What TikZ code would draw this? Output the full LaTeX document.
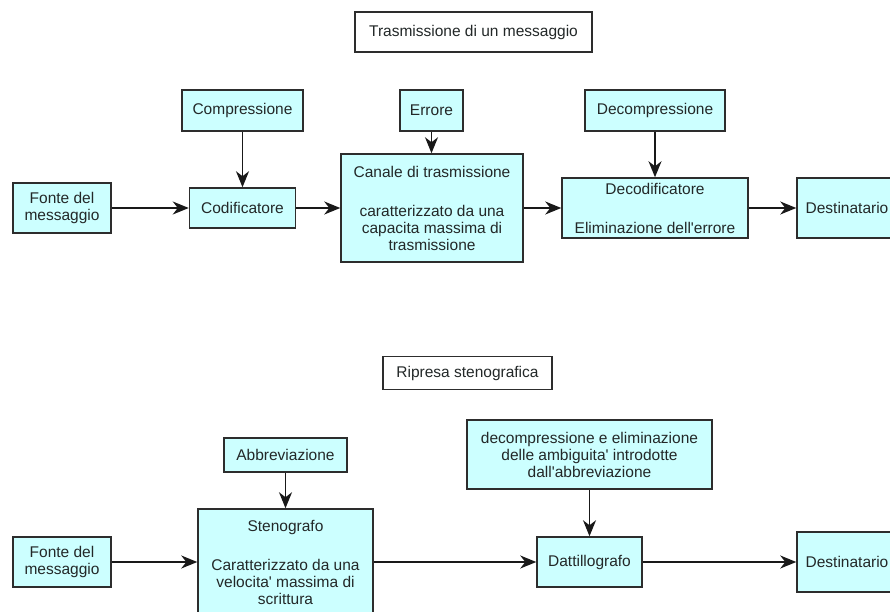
\documentclass[tikz,border=0pt]{standalone}
\usepackage{fontspec}
\setmainfont{Liberation Sans}[Ligatures=TeXOff]
\usetikzlibrary{arrows.meta}
\definecolor{boxfill}{RGB}{204,255,255}
\definecolor{boxline}{RGB}{45,45,45}
\definecolor{txt}{RGB}{35,40,40}
\tikzset{
  base/.style={draw=boxline, line width=1.5pt, inner sep=0pt, align=center,
    text=txt, font=\fontsize{15.5}{17}\selectfont},
  blk/.style={base, fill=boxfill},
  ttl/.style={base, fill=white},
  arr/.style={draw=black!90, line width=1.3pt,
    -{Stealth[length=16pt,width=13pt,inset=5pt]}},
}
\begin{document}
\begin{tikzpicture}[x=1pt,y=-1pt]
\useasboundingbox (0,0) rectangle (890,612);
\fill[white] (0,0) rectangle (890,612);
\clip (0,0) rectangle (890,612);

% ---- Trasmissione di un messaggio ----
\node[ttl, minimum width=237pt, minimum height=40pt] (t1) at (473.5,32) {Trasmissione di un messaggio};
\node[blk, minimum width=98pt, minimum height=50pt] (f1) at (62,208) {Fonte del\\messaggio};
\node[blk, minimum width=121pt, minimum height=41pt] (comp) at (242.5,110.5) {Compressione};
\node[blk, minimum width=106pt, minimum height=40pt] (cod) at (242.5,208) {Codificatore};
\node[blk, minimum width=63pt, minimum height=41pt] (err) at (431.5,110.5) {Errore};
\node[blk, minimum width=182pt, minimum height=108pt] (can) at (432,208)
  {Canale di trasmissione\\[22pt]caratterizzato da una\\capacita massima di\\trasmissione};
\node[blk, minimum width=140pt, minimum height=41pt] (dcomp) at (655,110.5) {Decompressione};
\node[blk, minimum width=186pt, minimum height=60pt] (dcod) at (655,208)
  {Decodificatore\\[22pt]Eliminazione dell'errore};
\node[blk, minimum width=100pt, minimum height=60pt] (d1) at (847,208) {Destinatario};

\draw[arr] (f1) -- (cod);
\draw[arr] (cod) -- (can);
\draw[arr] (can) -- (dcod);
\draw[arr] (dcod) -- (d1);
\draw[arr] (comp) -- (comp |- cod.north);
\draw[arr] (err) -- (err |- can.north);
\draw[arr] (dcomp) -- (dcomp |- dcod.north);

% ---- Ripresa stenografica ----
\node[ttl, minimum width=169pt, minimum height=33pt] (t2) at (467.5,373) {Ripresa stenografica};
\node[blk, minimum width=98pt, minimum height=50pt] (f2) at (62,562) {Fonte del\\messaggio};
\node[blk, minimum width=123pt, minimum height=34pt] (abb) at (285.5,455) {Abbreviazione};
\node[blk, minimum width=175pt, minimum height=106pt] (ste) at (285.5,562)
  {Stenografo\\[22pt]Caratterizzato da una\\velocita' massima di\\scrittura};
\node[blk, minimum width=245pt, minimum height=69pt] (dec2) at (589.5,454.5)
  {decompressione e eliminazione\\delle ambiguita' introdotte\\dall'abbreviazione};
\node[blk, minimum width=105pt, minimum height=50pt] (dat) at (589.5,562) {Dattillografo};
\node[blk, minimum width=100pt, minimum height=60pt] (d2) at (847,562) {Destinatario};

\draw[arr] (f2) -- (ste);
\draw[arr] (ste) -- (dat);
\draw[arr] (dat) -- (d2);
\draw[arr] (abb) -- (abb |- ste.north);
\draw[arr] (dec2) -- (dec2 |- dat.north);
\end{tikzpicture}
\end{document}
